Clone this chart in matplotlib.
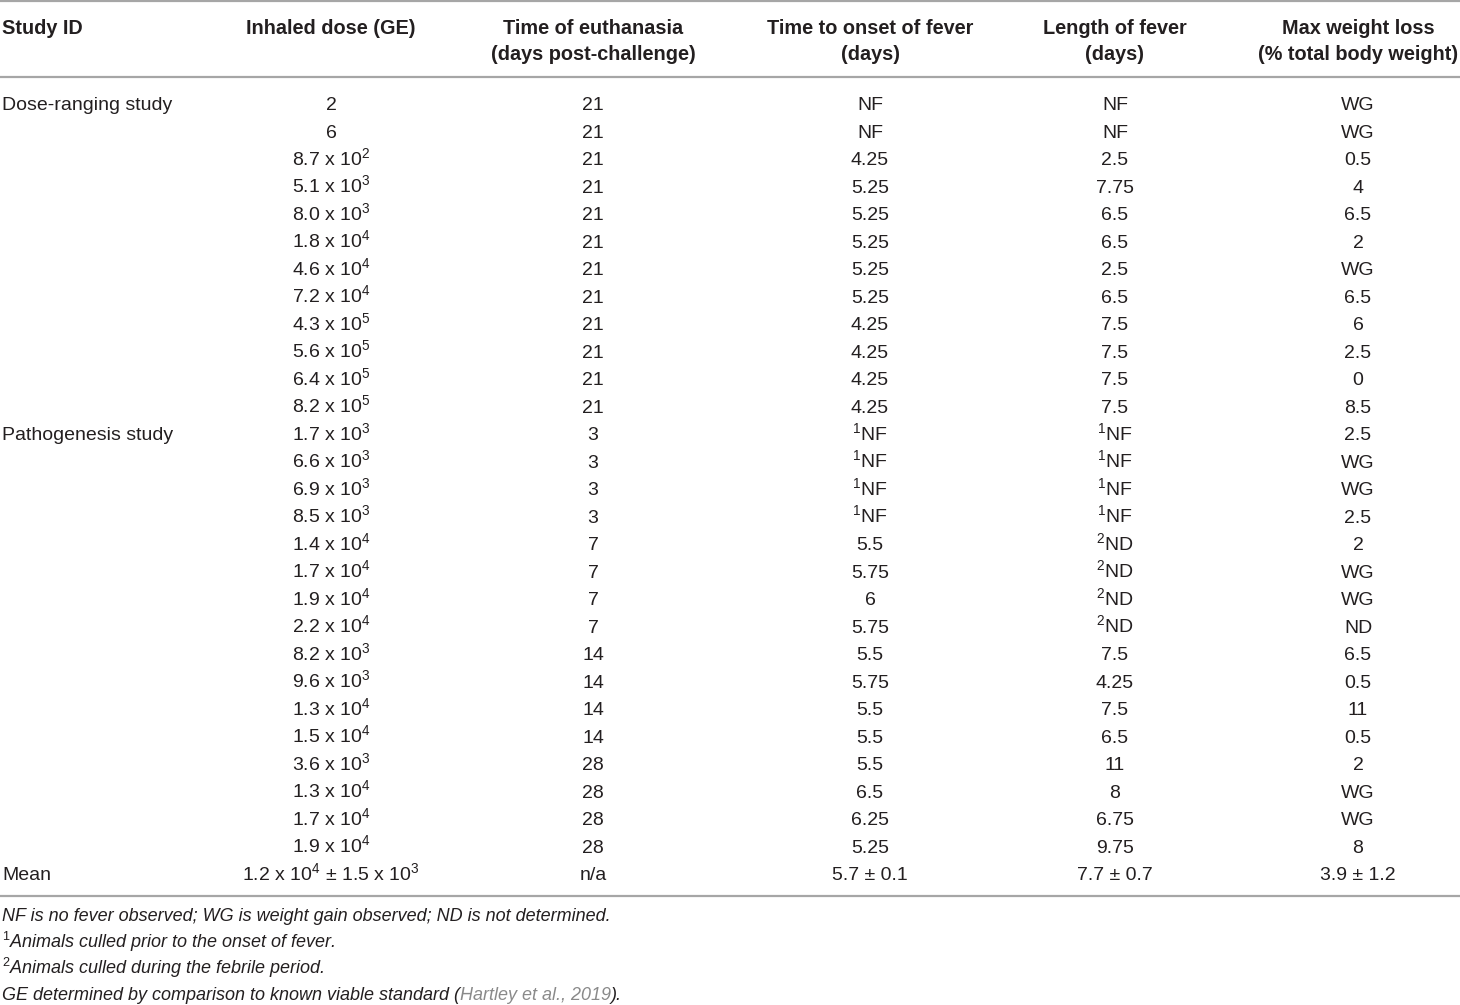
import matplotlib
matplotlib.use('Agg')
import matplotlib.pyplot as plt

plt.rcParams['font.family'] = ['Liberation Sans', 'DejaVu Sans']
plt.rcParams['mathtext.fontset'] = 'custom'
plt.rcParams['mathtext.rm'] = 'Liberation Sans'
plt.rcParams['mathtext.it'] = 'Liberation Sans:italic'

# table contents
headers = ['Study ID', 'Inhaled dose (GE)', 'Time of euthanasia\n(days post-challenge)',
           'Time to onset of fever\n(days)', 'Length of fever\n(days)',
           'Max weight loss\n(% total body weight)']

study = ['Dose-ranging study'] + [''] * 11 + ['Pathogenesis study'] + [''] * 15 + ['Mean']

dose = ['2', '6', '8.7 x 10$^{2}$', '5.1 x 10$^{3}$', '8.0 x 10$^{3}$', '1.8 x 10$^{4}$',
        '4.6 x 10$^{4}$', '7.2 x 10$^{4}$', '4.3 x 10$^{5}$', '5.6 x 10$^{5}$',
        '6.4 x 10$^{5}$', '8.2 x 10$^{5}$',
        '1.7 x 10$^{3}$', '6.6 x 10$^{3}$', '6.9 x 10$^{3}$', '8.5 x 10$^{3}$',
        '1.4 x 10$^{4}$', '1.7 x 10$^{4}$', '1.9 x 10$^{4}$', '2.2 x 10$^{4}$',
        '8.2 x 10$^{3}$', '9.6 x 10$^{3}$', '1.3 x 10$^{4}$', '1.5 x 10$^{4}$',
        '3.6 x 10$^{3}$', '1.3 x 10$^{4}$', '1.7 x 10$^{4}$', '1.9 x 10$^{4}$',
        '1.2 x 10$^{4}$ ± 1.5 x 10$^{3}$']

euth = ['21'] * 12 + ['3'] * 4 + ['7'] * 4 + ['14'] * 4 + ['28'] * 4 + ['n/a']

onset = ['NF', 'NF', '4.25', '5.25', '5.25', '5.25', '5.25', '5.25', '4.25', '4.25', '4.25', '4.25',
         '$^{1}$NF', '$^{1}$NF', '$^{1}$NF', '$^{1}$NF', '5.5', '5.75', '6', '5.75',
         '5.5', '5.75', '5.5', '5.5', '5.5', '6.5', '6.25', '5.25', '5.7 ± 0.1']

length = ['NF', 'NF', '2.5', '7.75', '6.5', '6.5', '2.5', '6.5', '7.5', '7.5', '7.5', '7.5',
          '$^{1}$NF', '$^{1}$NF', '$^{1}$NF', '$^{1}$NF',
          '$^{2}$ND', '$^{2}$ND', '$^{2}$ND', '$^{2}$ND',
          '7.5', '4.25', '7.5', '6.5', '11', '8', '6.75', '9.75', '7.7 ± 0.7']

weight = ['WG', 'WG', '0.5', '4', '6.5', '2', 'WG', '6.5', '6', '2.5', '0', '8.5',
          '2.5', 'WG', 'WG', '2.5', '2', 'WG', 'WG', 'ND',
          '6.5', '0.5', '11', '0.5', '2', 'WG', 'WG', '8', '3.9 ± 1.2']

notes = ['NF is no fever observed; WG is weight gain observed; ND is not determined.',
         r'$^{\mathit{1}}$Animals culled prior to the onset of fever.',
         r'$^{\mathit{2}}$Animals culled during the febrile period.']

txt = '#231f20'
rule = '#a6a6a6'
fs = 14.0
fs_head = 14.3
fs_note = 13.0

fig = plt.figure(figsize=(14.6, 10.05), dpi=100)
ax = fig.add_axes([0, 0, 1, 1])
ax.set_xlim(0, 1460)
ax.set_ylim(1005, 0)
ax.axis('off')

col_x = [2, 331, 593, 870, 1115, 1358]

# header (two lines, baselines ~34 and ~60)
for i, h in enumerate(headers):
    ha = 'left' if i == 0 else 'center'
    lines = h.split('\n')
    for k, line in enumerate(lines):
        ax.text(col_x[i], 34 + 26 * k, line, ha=ha, va='baseline', fontsize=fs_head,
                fontweight='bold', color=txt)

ax.hlines([1, 77, 896], 0, 1460, color=rule, linewidth=1.6)

# body
y0, dy = 110, 27.5
columns = [study, dose, euth, onset, length, weight]
for r in range(len(euth)):
    y = y0 + r * dy
    for c, col in enumerate(columns):
        if col[r] == '':
            continue
        ha = 'left' if c == 0 else 'center'
        ax.text(col_x[c], y, col[r], ha=ha, va='baseline', fontsize=fs, color=txt)

# footnotes
note_y = [921, 948, 974]
for y, n in zip(note_y, notes):
    ax.text(2, y, n, ha='left', va='baseline', fontsize=fs_note, style='italic', color=txt)

renderer = fig.canvas.get_renderer()
parts = [('GE determined by comparison to known viable standard (', txt),
         ('Hartley et al., 2019', '#8a8a8a'),
         (').', txt)]
x = 2
for s, c in parts:
    t = ax.text(x, 1000, s, ha='left', va='baseline', fontsize=fs_note, style='italic', color=c)
    bb = t.get_window_extent(renderer=renderer)
    x = ax.transData.inverted().transform((bb.x1, 0))[0]

fig.savefig('out.png', dpi=100)
